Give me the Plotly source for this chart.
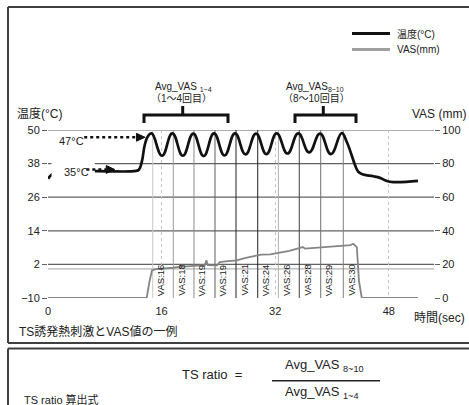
import plotly.graph_objects as go

# ---------------- data ----------------
# Temperature trace: time (s) / temperature (°C)
temp_time = [0.0, 0.5, 1.5, 6.6, 12.4, 12.8, 13.2, 13.66, 14.13,
             14.61, 16.06, 17.51, 18.99, 20.46, 21.92, 23.38, 24.86, 26.34, 27.82,
             29.30, 30.76, 32.21, 33.73, 35.25, 36.78, 38.31, 39.84, 41.37,
             42.07, 42.77, 43.24, 43.70, 44.41, 45.82, 46.76, 47.70, 48.63, 52.11]
temp_vals = [32.6, 34.0, 35.2, 35.3, 35.4, 35.8, 38.5, 45.0, 48.0,
             48.8, 40.8, 48.8, 40.8, 48.7, 40.7, 48.8, 40.9, 48.8, 41.3,
             48.7, 41.4, 48.8, 41.6, 48.8, 42.0, 48.7, 41.4, 48.9,
             45.8, 41.0, 37.5, 35.1, 34.1, 33.5, 32.9, 31.8, 31.4, 31.8]

# VAS trace: time (s) / VAS (mm)
vas_time = [0, 13.9, 14.3, 14.65, 15.2, 16.2, 17.0, 17.6, 18.5, 19.5,
            20.0, 21.5, 22.1, 22.3, 22.5, 23.8, 24.2, 25.0, 26.6, 27.7,
            28.5, 29.4, 30.0, 31.3, 33.1, 34.0, 35.0, 35.9, 36.2, 37.8,
            38.5, 39.7, 41.6, 42.6, 43.0, 43.5, 43.8, 44.2, 52.1]
vas_vals = [0, 0, 10, 16.5, 17.2, 17.4, 17.6, 18.0, 18.5, 18.8,
            19.0, 19.2, 19.5, 22.5, 19.6, 19.4, 21.4, 21.8, 22.4, 23.8,
            24.6, 25.4, 25.8, 26.0, 27.2, 28.0, 29.2, 30.3, 29.4, 30.0,
            30.4, 30.7, 31.3, 31.5, 32.3, 30.3, 10, 0, 0]

# VAS readings at each stimulus
vas_mark_time = [14.75, 17.65, 20.56, 23.52, 26.48, 29.54, 32.45, 35.39, 38.41, 41.59]
vas_mark_labels = ["VAS:16", "VAS:18", "VAS:19", "VAS:19", "VAS:21",
                   "VAS:24", "VAS:26", "VAS:28", "VAS:29", "VAS:30"]
vas_mark_colors = ["#c8c8c8", "#9a9a9a", "#8a8a8a", "#606060", "#202020",
                   "#202020", "#b0b0b0", "#404040", "#707070", "#808080"]

x_ticks = [0, 16, 32, 48]
temp_ticks = [-10, 2, 14, 26, 38, 50]
temp_grid = [2, 14, 26, 38, 50]
vas_ticks = [0, 20, 40, 60, 80, 100]
vas_ref_level = 17.3

# ---------------- layout geometry ----------------
W_PX, H_PX = 469, 405
L, R_EDGE = 48, 434          # plot area left / right pixel
T, B_EDGE = 130, 298         # plot area top / bottom pixel
PXS = 7.1                    # pixels per second
XMAX = (R_EDGE - L) / PXS

def PX(px):
    return (px - L) / (R_EDGE - L)

def PY(py):
    return (B_EDGE - py) / (B_EDGE - T)

FONT = "Liberation Sans, Noto Sans CJK JP, sans-serif"

fig = go.Figure()

fig.add_trace(go.Scatter(x=vas_time, y=vas_vals, mode="lines", name="VAS(mm)",
                         line=dict(color="#858585", width=1.8), yaxis="y2",
                         showlegend=False))
fig.add_trace(go.Scatter(x=temp_time, y=temp_vals, mode="lines", name="温度(°C)",
                         line=dict(color="#111111", width=2.7, shape="spline", smoothing=1.3),
                         showlegend=False))

shapes = []
for v in temp_grid:
    shapes.append(dict(type="line", xref="paper", yref="y", x0=0, x1=1, y0=v, y1=v,
                       line=dict(color="#626262", width=1.2), layer="below"))
shapes.append(dict(type="line", xref="paper", yref="y2", x0=0, x1=1,
                   y0=vas_ref_level, y1=vas_ref_level,
                   line=dict(color="#b4b4b4", width=1.2), layer="below"))
for t, c in zip(vas_mark_time, vas_mark_colors):
    shapes.append(dict(type="line", xref="x", yref="paper", x0=t, x1=t, y0=0, y1=1,
                       line=dict(color=c, width=1), layer="below"))
# white box behind the 35°C label
shapes.append(dict(type="rect", xref="x", yref="y", x0=0.5, x1=6.6, y0=32.0, y1=38.7,
                   fillcolor="white", line=dict(width=0), layer="above"))
# dotted arrows (line + triangular head)
for x_tail, x_tip, y_arrow in [(5.1, 13.66, 47.4), (5.4, 9.4, 35.9)]:
    x_base = x_tip - 1.2
    shapes.append(dict(type="line", xref="x", yref="y", x0=x_tail, x1=x_base,
                       y0=y_arrow, y1=y_arrow,
                       line=dict(color="#111111", width=2.5, dash="dot"), layer="above"))
    shapes.append(dict(type="path", xref="x", yref="y", layer="above",
                       path=f"M {x_tip} {y_arrow} L {x_base} {y_arrow + 1.4} L {x_base} {y_arrow - 1.4} Z",
                       fillcolor="#111111", line=dict(color="#111111", width=1)))
# brackets
for xl, xc, xr in [(144, 182.7, 228), (295, 323.3, 356)]:
    shapes.append(dict(type="path", xref="paper", yref="paper",
                       path=f"M {PX(xl)} {PY(123)} L {PX(xl)} {PY(115)} L {PX(xr)} {PY(115)} L {PX(xr)} {PY(123)}",
                       line=dict(color="#111111", width=3)))
    shapes.append(dict(type="line", xref="paper", yref="paper", x0=PX(xc), x1=PX(xc),
                       y0=PY(115), y1=PY(106), line=dict(color="#111111", width=3)))
# legend samples
shapes.append(dict(type="line", xref="paper", yref="paper", x0=PX(352), x1=PX(390),
                   y0=PY(33.5), y1=PY(33.5), line=dict(color="#111111", width=3)))
shapes.append(dict(type="line", xref="paper", yref="paper", x0=PX(352), x1=PX(390),
                   y0=PY(49.5), y1=PY(49.5), line=dict(color="#a0a0a0", width=3)))
# panel frames
frame = dict(color="#404040", width=2)
shapes.append(dict(type="line", xref="paper", yref="paper", x0=PX(8), x1=PX(472), y0=PY(7), y1=PY(7), line=frame))
shapes.append(dict(type="line", xref="paper", yref="paper", x0=PX(8), x1=PX(8), y0=PY(7), y1=PY(343), line=frame))
shapes.append(dict(type="line", xref="paper", yref="paper", x0=PX(8), x1=PX(472), y0=PY(343), y1=PY(343), line=frame))
shapes.append(dict(type="line", xref="paper", yref="paper", x0=PX(8), x1=PX(472), y0=PY(348.5), y1=PY(348.5), line=frame))
shapes.append(dict(type="line", xref="paper", yref="paper", x0=PX(8), x1=PX(8), y0=PY(348.5), y1=PY(410), line=frame))
# fraction bar
shapes.append(dict(type="line", xref="paper", yref="paper", x0=PX(272), x1=PX(380),
                   y0=PY(380.7), y1=PY(380.7), line=dict(color="#222222", width=1.5)))

ann = []
def txt(text, px, py, size=12, xanchor="left", yanchor="middle", **kw):
    ann.append(dict(text=text, xref="paper", yref="paper", x=PX(px), y=PY(py),
                    xanchor=xanchor, yanchor=yanchor, showarrow=False,
                    font=dict(size=size, color="#222222", family=FONT), **kw))

txt("温度(°C)", 15, 114, 12)
txt("VAS (mm)", 410, 114, 12)
txt("時間(sec)", 412, 318, 12)
txt("TS誘発熱刺激とVAS値の一例", 17, 331, 12)
txt("温度(°C)", 395, 33.5, 10)
txt("VAS(mm)", 395, 49.5, 10)
txt("Avg_VAS <sub>1~4</sub>", 183, 87, 10, xanchor="center")
txt("（1～4回目）", 181, 98, 10, xanchor="center")
txt("Avg_VAS<sub>8~10</sub>", 315, 87, 10, xanchor="center")
txt("（8～10回目）", 316, 98, 10, xanchor="center")
txt("47°C", 57, 141, 11)
txt("35°C", 62, 171.5, 11)
txt("TS ratio  =", 180, 374, 13)
txt("Avg_VAS <sub>8~10</sub>", 283, 365, 13)
txt("Avg_VAS <sub>1~4</sub>", 283, 392, 13)
txt("TS ratio 算出式", 22, 399, 11)

for t, lab in zip(vas_mark_time, vas_mark_labels):
    ann.append(dict(text=lab, x=t, y=0, xref="x", yref="y2", xanchor="left",
                    yanchor="bottom", textangle=-90, showarrow=False, xshift=0,
                    font=dict(size=9.5, color="#1a1a1a", family=FONT)))

fig.update_layout(
    width=W_PX, height=H_PX,
    margin=dict(l=L, r=W_PX - R_EDGE, t=T, b=H_PX - B_EDGE, autoexpand=False),
    paper_bgcolor="white", plot_bgcolor="white",
    template="none",
    font=dict(family=FONT, size=11, color="#222222"),
    showlegend=False,
    shapes=shapes, annotations=ann,
    xaxis=dict(range=[0, XMAX], tickvals=x_ticks, showgrid=True, gridcolor="#c4c4c4",
               griddash="dot", gridwidth=1, zeroline=False, showline=False,
               ticks="outside", ticklen=3, tickcolor="rgba(0,0,0,0)",
               tickfont=dict(size=11), automargin=False),
    yaxis=dict(range=[-10, 50], tickvals=temp_ticks, showgrid=False, zeroline=False,
               showline=False, ticks="outside", ticklen=5, tickcolor="#626262",
               tickwidth=1.2, tickfont=dict(size=11), automargin=False),
    yaxis2=dict(range=[0, 100], tickvals=vas_ticks, overlaying="y", side="right",
                showgrid=False, zeroline=False, showline=False, ticks="outside",
                ticklen=5, tickcolor="#626262", tickwidth=1.2,
                tickfont=dict(size=11), automargin=False),
)

fig.write_html("out.html", config={"displayModeBar": False},
               post_script="document.body.style.margin='0';document.body.style.overflow='hidden';")
